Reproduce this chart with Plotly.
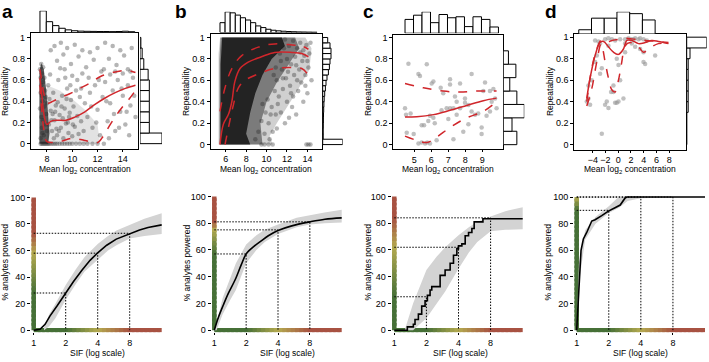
import numpy as np
import plotly.graph_objects as go

W, H = 709, 362
FONT = "Liberation Sans, Arial, sans-serif"
RED = "#d0262b"

# ================= TOP ROW DATA (repeatability vs mean log2 concentration) =================
# ---- panel a ----
a_points = [
    (7.45,0.70),(7.50,0.62),(7.55,0.55),(7.60,0.66),(7.50,0.48),(7.65,0.40),(7.70,0.58),(7.45,0.33),
    (7.55,0.25),(7.60,0.15),(7.70,0.22),(7.75,0.08),(7.80,0.35),(7.85,0.50),(7.90,0.18),(7.95,0.28),
    (8.00,0.12),(7.50,0.05),(7.60,0.45),(7.70,0.72),(7.80,0.62),(7.90,0.44),(8.00,0.38),(7.65,0.10),(7.55,0.75),
    (7.50,0.0),(7.60,0.0),(7.70,0.0),(7.80,0.0),(7.90,0.0),(8.00,0.0),(8.10,0.0),(8.20,0.0),(8.35,0.0),
    (8.50,0.0),(8.65,0.0),(8.80,0.0),(9.00,0.0),(9.20,0.0),(9.40,0.0),(9.60,0.0),(9.80,0.0),(10.00,0.0),
    (10.30,0.0),(10.60,0.0),(10.90,0.0),(11.20,0.0),(11.60,0.0),(12.00,0.0),(12.50,0.0),
    (8.10,0.55),(8.20,0.42),(8.30,0.31),(8.40,0.12),(8.50,0.48),(8.60,0.22),(8.70,0.36),(8.80,0.08),
    (8.90,0.60),(9.00,0.27),(9.10,0.15),(9.20,0.45),(9.30,0.05),(9.40,0.33),(9.50,0.19),(9.60,0.52),
    (9.70,0.10),(9.80,0.29),(9.90,0.41),(10.00,0.07),(8.15,0.18),(8.25,0.65),(8.45,0.28),(8.55,0.05),
    (8.75,0.14),(8.85,0.39),(9.05,0.71),(9.25,0.24),(9.45,0.62),(9.65,0.20),(9.85,0.55),(10.10,0.35),
    (10.20,0.16),(10.30,0.50),(10.40,0.26),(10.50,0.09),(10.60,0.44),(10.70,0.21),(10.80,0.66),(10.90,0.12),
    (11.00,0.38),(8.35,0.22),(8.65,0.30),(8.95,0.12),(9.15,0.35),(9.55,0.42),(9.75,0.25),(10.05,0.18),
    (8.30,0.88),(8.60,0.92),(8.80,0.78),(9.10,0.95),(9.30,0.84),(9.60,0.90),(9.90,0.75),(10.20,0.93),
    (10.50,0.82),(10.80,0.88),(11.10,0.72),(11.40,0.86),(11.70,0.79),(12.00,0.90),(12.30,0.68),(12.60,0.95),
    (12.90,0.80),(13.20,0.92),(13.50,0.74),(13.80,0.88),(14.10,0.83),(14.40,0.70),(14.70,0.90),(9.40,0.70),
    (10.00,0.64),(11.30,0.62),(13.00,0.65),
    (11.20,0.25),(11.40,0.48),(11.60,0.15),(11.80,0.55),(12.00,0.32),(12.20,0.08),(12.40,0.44),(12.60,0.58),
    (12.80,0.21),(13.00,0.38),(13.20,0.50),(13.40,0.12),(13.60,0.60),(13.80,0.30),(14.00,0.45),(14.20,0.18),
    (14.40,0.55),(14.60,0.36),(14.80,0.62),(15.00,0.25),(11.50,0.35),(12.10,0.60),(12.70,0.40),(13.30,0.28),
    (13.90,0.52),(14.50,0.08),(14.90,0.45),(11.90,0.20),(12.90,0.05),(13.70,0.15),(14.30,0.30),(10.70,0.52),
    (10.40,0.60),(13.40,0.68),(14.00,0.66),(14.60,0.68),(12.50,0.70),
]
a_dense_x = [7.40, 7.40, 7.55, 7.75, 7.95, 8.10, 8.20, 8.10, 7.40]
a_dense_y = [0.00, 0.68, 0.76, 0.70, 0.50, 0.30, 0.10, 0.00, 0.00]
a_haze_x = [8.0, 8.0, 9.0, 10.0, 11.0, 12.0, 12.2, 8.0]
a_haze_y = [0.0, 0.55, 0.50, 0.42, 0.32, 0.18, 0.0, 0.0]
a_mid_x = [7.45, 7.6, 7.8, 8.0, 8.3, 8.8, 9.5, 10.2, 11.0, 11.8, 12.6, 13.4, 14.2, 15.0]
a_mid_y = [0.62, 0.45, 0.25, 0.18, 0.21, 0.22, 0.22, 0.25, 0.30, 0.37, 0.43, 0.48, 0.52, 0.55]
a_up_x = [7.45, 7.6, 7.8, 8.0, 8.5, 9.0, 9.8, 10.6, 11.4, 12.2, 13.2, 14.3, 15.0]
a_up_y = [0.70, 0.58, 0.45, 0.38, 0.40, 0.43, 0.47, 0.52, 0.57, 0.63, 0.67, 0.69, 0.67]
a_lo_x = [7.45, 7.6, 7.8, 8.0, 9.0, 10.0, 11.0, 12.0, 12.5, 13.0, 13.5, 14.0, 14.5, 15.0]
a_lo_y = [0.55, 0.30, 0.10, 0.02, 0.02, 0.05, 0.03, 0.01, 0.08, 0.18, 0.27, 0.35, 0.42, 0.50]
a_xhist_start, a_xhist_w = 7.45, 0.5
a_xhist = [22, 11, 7, 4.3, 2.7, 1.8, 1.4, 1.2, 1.1, 1.0, 1.0, 0.9, 1.0, 1.3, 0.8]
a_yhist_w = 0.1
a_yhist = [20.3, 8.6, 8.6, 8.6, 8.6, 8.6, 7.5, 3.5, 2.0, 0.8]

# ---- panel b ----
b_points = [
    (11.8,0.98),(12.2,0.92),(12.6,0.97),(13.0,0.90),(13.3,0.95),(13.6,0.88),(13.9,0.93),(14.2,0.85),
    (12.0,0.80),(12.4,0.75),(12.8,0.82),(13.2,0.70),(13.5,0.78),(13.8,0.65),(14.1,0.72),(14.4,0.60),
    (11.5,0.70),(11.9,0.62),(12.3,0.55),(12.7,0.65),(13.1,0.50),(13.4,0.58),(10.8,0.50),(11.2,0.45),
    (11.6,0.52),(12.0,0.40),(12.5,0.35),(10.5,0.35),(10.9,0.28),(11.4,0.30),(11.8,0.20),(12.2,0.25),
    (10.2,0.20),(10.6,0.12),(11.0,0.15),(9.8,0.10),(10.3,0.05),(9.5,0.22),(9.9,0.30),(10.1,0.42),
    (9.6,0.38),(12.9,0.28),(13.6,0.40),(14.0,0.48),(9.5,0.0),(9.8,0.0),(10.2,0.0),(10.6,0.0),
    (13.9,0.0),(14.1,0.0),(14.3,0.0),(11.0,0.60),(10.7,0.65),(11.3,0.85),(11.7,0.90),(14.3,0.95),
    (13.0,0.60),(12.6,0.45),(9.2,0.12),(8.9,0.05),(10.4,0.28),(11.1,0.38),(13.7,0.83),(14.0,0.78),
    (12.1,0.68),(12.9,0.74),(13.3,0.86),(11.4,0.78),(10.9,0.72),(11.6,0.62),(12.4,0.48),(13.8,0.55),
]
b_outer_x = [5.30, 5.30, 5.45, 13.8, 14.4, 14.2, 13.0, 12.0, 11.0, 10.3, 10.6, 5.30]
b_outer_y = [0.00, 0.85, 1.00, 1.00, 0.90, 0.70, 0.50, 0.35, 0.20, 0.08, 0.00, 0.00]
b_halo_x = [5.40, 5.40, 5.50, 12.8, 13.2, 12.2, 11.0, 10.0, 9.4, 9.6, 5.40]
b_halo_y = [0.00, 0.80, 1.00, 1.00, 0.90, 0.75, 0.58, 0.40, 0.20, 0.00, 0.00]
b_dense_x = [5.50, 5.50, 5.65, 11.5, 11.8, 10.5, 9.6, 8.9, 8.4, 8.0, 8.4, 5.50]
b_dense_y = [0.00, 0.75, 1.00, 1.00, 0.92, 0.80, 0.65, 0.48, 0.30, 0.10, 0.00, 0.00]
b_mid_x = [5.44, 5.77, 6.26, 6.6, 6.9, 7.4, 8.2, 9.5, 10.8, 12.5, 13.45, 14.1]
b_mid_y = [0.00, 0.19, 0.28, 0.40, 0.59, 0.71, 0.77, 0.82, 0.86, 0.86, 0.85, 0.82]
b_up_x = [5.44, 5.93, 6.6, 7.57, 9.2, 10.8, 12.5, 13.45, 14.1]
b_up_y = [0.31, 0.53, 0.71, 0.83, 0.91, 0.94, 0.93, 0.92, 0.89]
b_lo_x = [5.93, 6.4, 6.75, 7.24, 7.9, 9.2, 10.8, 12.5, 13.45, 14.1]
b_lo_y = [0.00, 0.22, 0.37, 0.53, 0.60, 0.66, 0.71, 0.72, 0.71, 0.65]
b_xhist_start, b_xhist_w = 5.44, 0.5
b_xhist = [10, 21, 20, 17.7, 15, 12.7, 10, 6.7, 5, 3.3, 2.3, 1.7, 1.3, 1.0, 0.8, 0.6, 0.5, 0.4, 0.3]
b_yhist_w = 0.05
b_yhist = [20, 0.5, 0.5, 0.6, 0.7, 0.8, 1.0, 1.2, 1.5, 2.0, 2.7, 3.3, 4.3, 5.7, 6.7, 7.3, 8.3, 8.3, 7.3, 5.0]

# ---- panel c ----
c_points = [
    (4.65,0.755),(5.73,0.75),(5.24,0.66),(5.33,0.64),(4.45,0.34),(4.51,0.28),(4.78,0.29),(5.43,0.18),
    (5.57,0.18),(6.12,0.59),(6.02,0.57),(6.55,0.53),(7.10,0.61),(7.10,0.56),(7.69,0.57),(6.70,0.48),
    (7.39,0.45),(8.37,0.66),(9.16,0.58),(7.98,0.43),(8.18,0.37),(7.10,0.34),(7.00,0.24),(6.60,0.32),
    (6.12,0.25),(5.92,0.27),(5.82,0.22),(6.20,0.20),(6.90,0.34),(7.30,0.34),(7.49,0.28),(7.69,0.34),
    (8.37,0.31),(8.57,0.28),(8.96,0.16),(8.96,0.10),(9.25,0.27),(9.45,0.31),(9.55,0.40),(9.75,0.43),
    (9.45,0.50),(9.65,0.52),(9.06,0.50),(9.84,0.34),(5.43,0.02),(5.63,0.01),(5.76,0.02),(5.92,0.01),
    (5.24,0.01),(6.31,0.04),(7.30,0.05),(7.88,0.12),(8.18,0.19),(4.55,0.11),(4.96,0.10),(7.49,0.40),
    (7.98,0.39),(8.76,0.29),
]
c_mid_x = [4.45, 5.14, 6.12, 7.1, 8.08, 9.06, 9.84]
c_mid_y = [0.257, 0.26, 0.28, 0.32, 0.365, 0.41, 0.434]
c_up_x = [4.45, 5.53, 6.7, 7.69, 8.67, 9.84]
c_up_y = [0.57, 0.53, 0.50, 0.49, 0.50, 0.50]
c_lo_x = [4.45, 5.14, 5.73, 6.31, 7.1, 8.08, 9.06, 9.84]
c_lo_y = [0.08, 0.04, 0.02, 0.07, 0.16, 0.25, 0.31, 0.40]
c_xhist_start, c_xhist_w = 4.45, 0.5
c_xhist = [14, 18.3, 21.7, 10.7, 19, 15.7, 16.7, 6.7, 16.7, 14, 6.3]
c_yhist_w = 0.125
c_yhist = [14, 9, 21.7, 14, 6.7, 13, 5.3]

# ---- panel d ----
d_points = [
    (-2.58,0.10),(-4.94,0.40),(-4.68,0.43),(-4.42,0.37),(-4.68,0.55),(-4.16,0.60),(-3.63,0.77),(-3.37,0.83),
    (-2.85,0.66),(-2.58,0.71),(-2.06,0.37),(-1.80,0.40),(-1.54,0.34),(-1.12,0.49),(-0.75,0.49),(-0.49,0.39),
    (-0.23,0.39),(0.04,0.40),(-0.75,0.55),(0.30,0.60),(0.82,0.43),(0.04,0.74),(-0.23,0.80),(1.08,0.86),
    (-3.63,0.97),(-3.10,0.96),(-2.06,0.98),(-1.54,0.99),(-1.00,0.98),(-0.49,0.97),(0.30,0.98),(1.08,0.98),
    (1.61,0.99),(2.03,0.98),(2.39,0.98),(2.66,0.99),(3.18,0.98),(3.44,0.99),(3.97,0.98),(4.49,0.97),
    (2.13,0.94),(2.66,0.91),(3.44,0.89),(3.97,0.77),(4.23,0.75),(5.80,0.83),(1.08,0.94),(-1.54,0.92),
    (-2.85,0.94),(3.97,0.86),
]
d_mid_x = [-4.94, -4.42, -3.63, -2.85, -2.3, -1.54, -0.75, 0.04, 0.82, 1.35, 2.13, 3.18, 4.23, 5.28, 6.32, 7.9]
d_mid_y = [0.43, 0.62, 0.83, 0.95, 0.96, 0.91, 0.86, 0.84, 0.89, 0.97, 0.97, 0.94, 0.95, 0.97, 0.96, 0.94]
d_up_x = [-4.94, -4.16, -3.37, -2.69, -1.8, -1.0, 0.04, 1.08, 2.66, 4.23, 6.3, 7.9]
d_up_y = [0.40, 0.71, 0.89, 0.97, 0.95, 0.97, 0.98, 0.99, 0.98, 0.97, 0.96, 0.95]
d_lo_x = [-4.94, -4.16, -3.37, -2.69, -2.06, -1.54, -1.0, -0.49, 0.04, 0.56, 1.08, 1.87, 3.18, 3.97, 4.75, 6.3, 7.9]
d_lo_y = [0.36, 0.52, 0.77, 0.94, 0.77, 0.62, 0.51, 0.49, 0.60, 0.77, 0.92, 0.95, 0.91, 0.86, 0.89, 0.94, 0.94]
d_xhist_start, d_xhist_w = -6.2, 2.0
d_xhist = [4, 15, 15, 21, 19.3, 13.3]
d_yhist_w = 0.1
d_yhist = [0, 0, 0, 1.5, 1.5, 1.5, 1.5, 1.5, 3.3, 20]

# tick labels of the top row
rep_ticks = [0, 0.2, 0.4, 0.6, 0.8, 1]
rep_ticktext = ["0", "0.2", "0.4", "0.6", "0.8", "1"]
a_xticks = [8, 10, 12, 14]
b_xticks = [6, 8, 10, 12, 14]
c_xticks = [5, 6, 7, 8, 9]
d_xticks = [-4, -2, 0, 2, 4, 6, 8]

# ================= BOTTOM ROW DATA (% analytes powered vs SIF) =================
sif_ticks = [1, 2, 4, 8]
pow_ticks = [0, 20, 40, 60, 80, 100]
sif_marks = [2, 4, 8]

pa_sif = [1.0, 1.147, 1.28, 1.42, 1.65, 2.0, 2.36, 2.83, 3.39, 4.0, 4.86, 5.98, 8.0, 9.9, 11.9, 16.0]
pa_pow = [0, 0.7, 4.4, 10.6, 18, 28, 36.5, 45, 52.6, 58.3, 64, 68.6, 72.8, 75.5, 77.3, 79.3]
pa_band_sif = [1.25, 1.4, 1.6, 2, 2.5, 3, 4, 5, 6, 8, 11, 16]
pa_band_up = [2, 12, 20, 34, 46, 55, 65, 71, 75, 79, 84, 88]
pa_band_lo = [0, 3, 9, 23, 35, 44, 53, 60, 64, 69, 71, 72.5]
pa_marks = [28, 58, 73]

pb_sif = [1.0, 1.09, 1.22, 1.36, 1.57, 1.8, 2.0, 2.4, 2.8, 3.24, 4.0, 5.4, 8.0, 11.1, 16]
pb_pow = [0, 9.3, 19, 27.7, 37.5, 49, 57, 63, 67, 70.6, 74.5, 78, 81, 83, 84]
pb_band_sif = [1.0, 1.05, 1.2, 1.4, 1.6, 2, 2.5, 3, 4, 6, 8, 11, 16]
pb_band_up = [0, 5, 24, 38, 50, 64, 71, 75, 79, 84, 86, 88, 90]
pb_band_lo = [0, 0, 12, 22, 30, 50, 60, 66, 72, 77, 79, 80, 80.5]
pb_marks = [57, 75, 81]

pc_sif = [1.0, 1.325, 1.509, 1.564, 1.682, 1.807, 1.944, 2.043, 2.165, 2.245, 2.69, 2.995, 3.34,
          3.59, 3.86, 4.0, 4.3, 4.62, 4.97, 5.34, 5.61, 6.78, 16]
pc_pow = [0, 2.5, 4.4, 8, 12, 18, 22, 26, 30, 32.6, 41, 45, 50, 56, 61, 63, 64.5, 70.6, 73, 76, 81, 83.3, 83.3]
pc_band_sif = [1.25, 1.5, 2, 2.5, 3, 4, 5, 6, 8, 11, 16]
pc_band_up = [0, 20, 45, 55, 62, 71, 77, 81, 85, 89, 92]
pc_band_lo = [0, 0, 9, 20, 29, 46, 58, 66, 74, 75, 75.5]
pc_marks = [25, 62, 84]

pd_sif = [1.0, 1.022, 1.037, 1.059, 1.098, 1.155, 1.242, 1.384, 1.488, 1.719, 1.985, 2.29, 2.56, 2.85, 2.95, 16]
pd_pow = [0, 14, 31.5, 46, 60, 68.5, 73.4, 82, 83, 86, 89.4, 92, 94, 99.3, 100, 100]
pd_band_up_sif = [1.0, 1.05, 1.2, 1.5, 2, 2.4, 2.8, 16]
pd_band_up = [0, 50, 75, 85, 93, 99, 100, 100]
pd_band_lo_sif = [1.0, 1.05, 1.2, 1.5, 2, 2.5, 3, 4, 6, 16]
pd_band_lo = [0, 35, 68, 80, 88, 92, 97, 99, 99.5, 100]
pd_marks = [90, 100, 100]

# ================= BUILD FIGURE =================
layout = dict(width=W, height=H, margin=dict(l=0, r=0, t=0, b=0),
              paper_bgcolor="white", plot_bgcolor="white", showlegend=False,
              font=dict(family=FONT, size=9, color="black"), barmode="overlay")
traces, shapes, annotations = [], [], []
ax_count = [0]


def new_axes(xd, yd, xr, yr, xopt=None, yopt=None):
    ax_count[0] += 1
    s = "" if ax_count[0] == 1 else str(ax_count[0])
    xa = dict(domain=xd, range=xr, anchor="y" + s, showgrid=False, zeroline=False, visible=False)
    ya = dict(domain=yd, range=yr, anchor="x" + s, showgrid=False, zeroline=False, visible=False)
    if xopt:
        xa.update(xopt)
    if yopt:
        ya.update(yopt)
    layout["xaxis" + s] = xa
    layout["yaxis" + s] = ya
    return "x" + s, "y" + s


def pdx(a, b):
    return [a / W, b / W]


def pdy(top, bottom):
    return [1 - bottom / H, 1 - top / H]


frame = dict(visible=True, showline=True, mirror=True, linecolor="black", linewidth=1.2,
             ticks="outside", ticklen=3, tickwidth=1, tickcolor="black",
             tickfont=dict(size=9, family=FONT, color="black"))

top_panels = [
    dict(pts=a_points, dense=[(a_haze_x, a_haze_y, 0.12), (a_dense_x, a_dense_y, 0.7)], mid=(a_mid_x, a_mid_y),
         up=(a_up_x, a_up_y), lo=(a_lo_x, a_lo_y), xh=(a_xhist_start, a_xhist_w, a_xhist),
         yh=(a_yhist_w, a_yhist), box=(31, 138, 31, 148), xr=[6.74, 15.2], yr=[-0.046, 1.037], xt=a_xticks,
         th=(8, 30), rh=(140, 162), mcol="rgba(30,30,30,0.33)"),
    dict(pts=b_points, dense=[(b_outer_x, b_outer_y, 0.2), (b_halo_x, b_halo_y, 0.45), (b_dense_x, b_dense_y, 0.85)],
         mid=(b_mid_x, b_mid_y), up=(b_up_x, b_up_y), lo=(b_lo_x, b_lo_y), xh=(b_xhist_start, b_xhist_w, b_xhist),
         yh=(b_yhist_w, b_yhist), box=(210.7, 321.7, 32, 148), xr=[4.53, 15.4], yr=[-0.037, 1.028],
         xt=b_xticks, th=(9, 30), rh=(322.7, 342.7), mcol="rgba(30,30,30,0.33)"),
    dict(pts=c_points, dense=[], mid=(c_mid_x, c_mid_y), up=(c_up_x, c_up_y), lo=(c_lo_x, c_lo_y),
         xh=(c_xhist_start, c_xhist_w, c_xhist), yh=(c_yhist_w, c_yhist), box=(393.3, 502.7, 32.7, 148.3),
         xr=[3.76, 10.2], yr=[-0.039, 1.021], xt=c_xticks, th=(9, 30.7), rh=(503.3, 524.3),
         mcol="rgba(150,150,150,0.6)"),
    dict(pts=d_points, dense=[], mid=(d_mid_x, d_mid_y), up=(d_up_x, d_up_y), lo=(d_lo_x, d_lo_y),
         xh=(d_xhist_start, d_xhist_w, d_xhist), yh=(d_yhist_w, d_yhist), box=(574.3, 685.7, 31.7, 149),
         xr=[-6.9, 10.6], yr=[-0.046, 1.028], xt=d_xticks, th=(9, 31.5), rh=(686.7, 706.7),
         mcol="rgba(150,150,150,0.6)"),
]

for p in top_panels:
    x0, x1, y0, y1 = p["box"]
    xo = dict(frame, ticklen=2, tickvals=p["xt"], ticktext=[str(v).replace("-", "\u2212") for v in p["xt"]])
    yo = dict(frame, tickvals=rep_ticks, ticktext=rep_ticktext)
    xa, ya = new_axes(pdx(x0, x1), pdy(y0, y1), p["xr"], p["yr"], xo, yo)
    for dx, dy, op in p["dense"]:
        traces.append(go.Scatter(x=dx, y=dy, xaxis=xa, yaxis=ya, mode="lines", fill="toself",
                                 fillcolor=f"rgba(20,20,20,{op})", line=dict(width=0), hoverinfo="skip"))
    px_, py_ = zip(*p["pts"])
    traces.append(go.Scatter(x=list(px_), y=list(py_), xaxis=xa, yaxis=ya, mode="markers",
                             marker=dict(size=4.5, color=p["mcol"], line=dict(width=0))))
    for (lx, ly), dash in ((p["up"], "dash"), (p["lo"], "dash"), (p["mid"], "solid")):
        traces.append(go.Scatter(x=lx, y=ly, xaxis=xa, yaxis=ya, mode="lines",
                                 line=dict(color=RED, width=1.5, dash=dash, shape="spline")))
    # top histogram
    st, bw, counts = p["xh"]
    centers = [st + bw * (i + 0.5) for i in range(len(counts))]
    hxa, hya = new_axes(pdx(x0, x1), pdy(*p["th"]), p["xr"], [0, max(counts)])
    traces.append(go.Bar(x=centers, y=counts, width=bw, xaxis=hxa, yaxis=hya,
                         marker=dict(color="white", line=dict(color="black", width=1))))
    # right histogram
    bw, counts = p["yh"]
    centers = [bw * (i + 0.5) for i in range(len(counts))]
    rxa, rya = new_axes(pdx(*p["rh"]), pdy(y0, y1), [0, max(counts)], p["yr"])
    traces.append(go.Bar(y=centers, x=counts, width=bw, orientation="h", xaxis=rxa, yaxis=rya,
                         marker=dict(color="white", line=dict(color="black", width=1))))

# ----- bottom row -----
G = (70, 112, 55)
Y = (180, 170, 80)
R = (168, 82, 66)


def grad(v, knots):
    xs = [k[0] for k in knots]
    cols = [int(np.interp(v, xs, [k[1][ch] for k in knots])) for ch in range(3)]
    return "rgb(%d,%d,%d)" % tuple(cols)


bottom_panels = [
    dict(s=pa_sif, p=pa_pow, shape="linear", bup=(pa_band_sif, pa_band_up), blo=(pa_band_sif, pa_band_lo),
         marks=pa_marks, cal=(33.7, 161.7, 332.7, 197.7)),
    dict(s=pb_sif, p=pb_pow, shape="spline", bup=(pb_band_sif, pb_band_up), blo=(pb_band_sif, pb_band_lo),
         marks=pb_marks, cal=(214.3, 341.7, 332.7, 196.7)),
    dict(s=pc_sif, p=pc_pow, shape="hv", bup=(pc_band_sif, pc_band_up), blo=(pc_band_sif, pc_band_lo),
         marks=pc_marks, cal=(394.3, 522.7, 332.7, 196.7)),
    dict(s=pd_sif, p=pd_pow, shape="linear", bup=(pd_band_up_sif, pd_band_up), blo=(pd_band_lo_sif, pd_band_lo),
         marks=pd_marks, cal=(576.7, 705.0, 332.7, 197.3)),
]
L16 = np.log10(16)
for p in bottom_panels:
    x1p, x16p, y0p, y100p = p["cal"]
    xs = (x16p - x1p) / L16
    ys = (y0p - y100p) / 100
    ex, ey = 0.025, 1.5
    xo = dict(visible=True, type="log", showline=False, ticks="outside", ticklen=2, tickwidth=1,
              tickcolor="black", tickvals=sif_ticks, ticktext=[str(v) for v in sif_ticks],
              tickfont=dict(size=9, family=FONT, color="black"))
    yo = dict(visible=True, showline=False, ticks="outside", ticklen=3, tickwidth=1, tickcolor="black",
              tickvals=pow_ticks, ticktext=[str(v) for v in pow_ticks],
              tickfont=dict(size=9, family=FONT, color="black"))
    xa, ya = new_axes(pdx(x1p - ex * xs, x16p + ex * xs), pdy(y100p - ey * ys, y0p + ey * ys),
                      [-ex, L16 + ex], [-ey, 100 + ey], xo, yo)
    # grey band
    (ux, uy), (lx, ly) = p["bup"], p["blo"]
    traces.append(go.Scatter(x=list(ux) + list(lx)[::-1], y=list(uy) + list(ly)[::-1], xaxis=xa, yaxis=ya,
                             mode="lines", fill="toself", fillcolor="#d3d3d3", line=dict(width=0),
                             hoverinfo="skip"))
    # dotted guide lines
    gx, gy = [], []
    for s, v in zip(sif_marks, p["marks"]):
        gx += [1, s, s, None]
        gy += [v, v, 0, None]
    traces.append(go.Scatter(x=gx, y=gy, xaxis=xa, yaxis=ya, mode="lines",
                             line=dict(color="black", width=1, dash="1.5px,1.5px")))
    traces.append(go.Scatter(x=p["s"], y=p["p"], xaxis=xa, yaxis=ya, mode="lines",
                             line=dict(color="black", width=1.6, shape=p["shape"])))
    # coloured axes drawn as short overlapping gradient segments
    m2, m4, m8 = p["marks"]
    yk = [(0, G), (m2, G), (m4, Y), (max(m8, m4 + 0.01), R), (100.02, R)]
    xk = [(0, G), (np.log10(2), G), (np.log10(4), Y), (np.log10(8), R), (L16 + 0.01, R)]
    N = 30
    for i in range(N):
        a0, a1 = 100 * i / N, min(100, 100 * (i + 1.6) / N)
        shapes.append(dict(type="line", xref=xa, yref=ya, x0=1, x1=1, y0=a0, y1=a1, layer="below",
                           line=dict(color=grad(100 * (i + 0.5) / N, yk), width=4.5)))
        b0, b1 = L16 * i / N, min(L16, L16 * (i + 1.6) / N)
        shapes.append(dict(type="line", xref=xa, yref=ya, x0=10 ** b0, x1=10 ** b1, y0=0, y1=0, layer="below",
                           line=dict(color=grad(L16 * (i + 0.5) / N, xk), width=4.5)))


# ----- text -----
def txt(t, x, y, size=8.5, angle=0, bold=False):
    annotations.append(dict(text=("<b>%s</b>" % t) if bold else t, x=x / W, y=1 - y / H, xref="paper",
                            yref="paper", showarrow=False, textangle=angle, xanchor="center",
                            yanchor="middle", font=dict(size=size, family=FONT, color="black")))


for lab, x in zip(["a", "b", "c", "d"], [7, 181, 368, 551]):
    txt(lab, x, 9, size=19, bold=True)
for x in [84.5, 266.2, 448, 630]:
    txt("Mean log<sub>2</sub> concentration", x, 169)
for x in [5, 186, 368, 550]:
    txt("Repeatability", x, 89.5, angle=-90)
for x in [5, 186.7, 368, 548]:
    txt("% analytes powered", x, 264, angle=-90)
for x in [97.5, 287.5, 460, 640.8]:
    txt("SIF (log scale)", x, 356)

layout["shapes"] = shapes
layout["annotations"] = annotations
fig = go.Figure(data=traces, layout=layout)
fig.write_html("out.html", config={"displayModeBar": False},
               post_script="document.body.style.margin='0px';document.body.style.padding='0px';")
